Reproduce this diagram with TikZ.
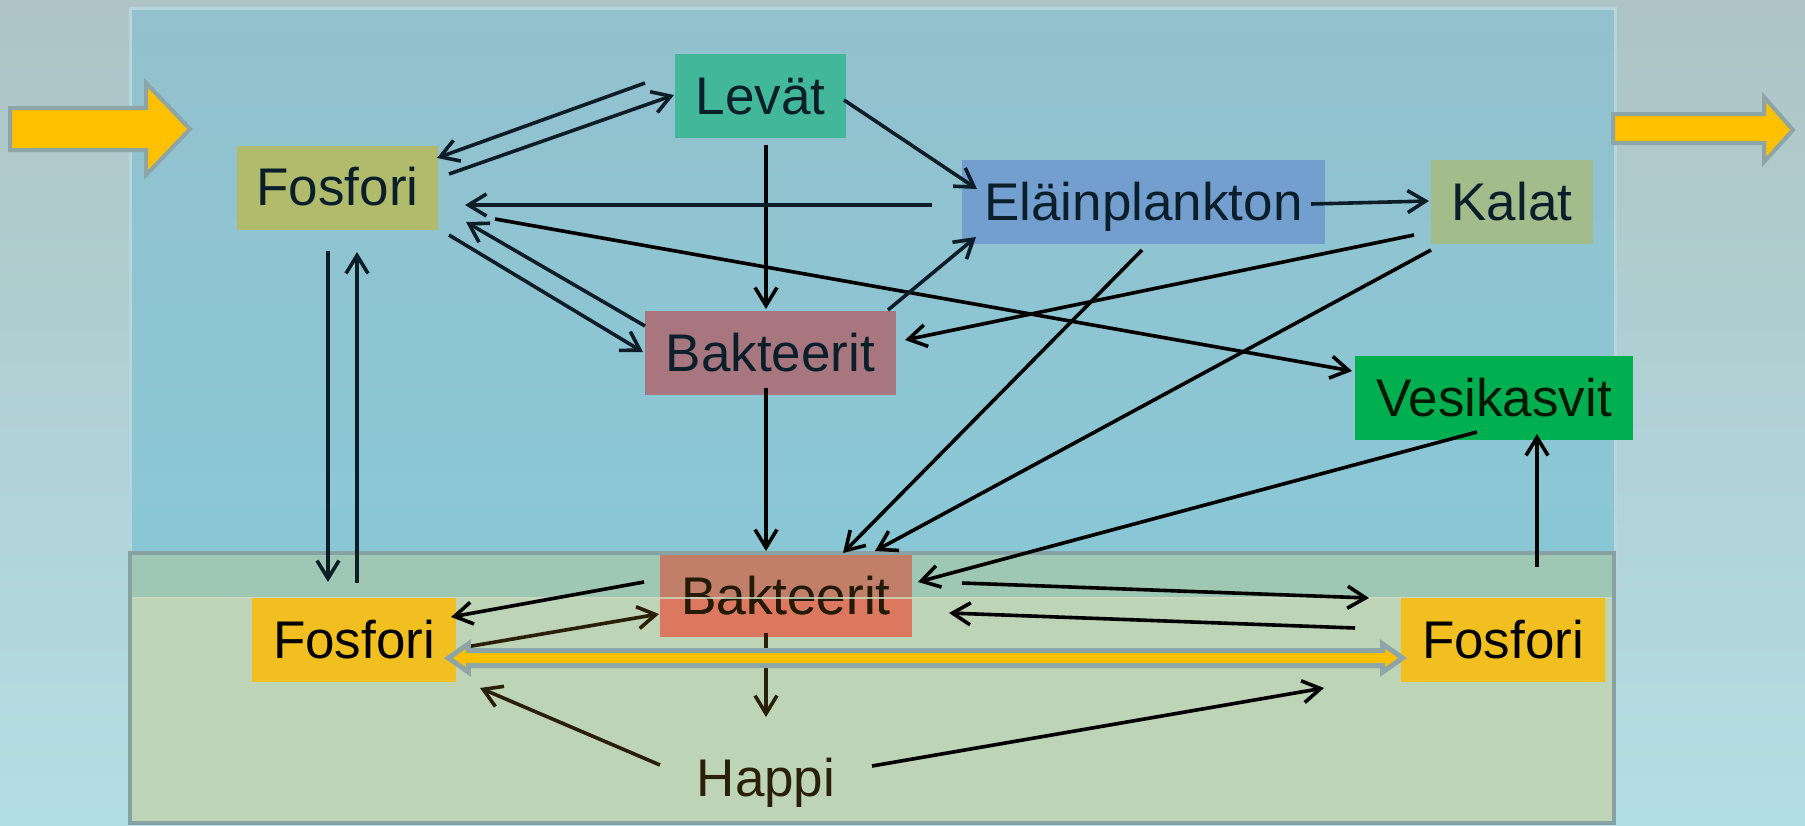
\documentclass[tikz,border=0pt]{standalone}
\usepackage{fontspec}
\setmainfont{Liberation Sans}
\usetikzlibrary{arrows.meta}
\definecolor{bgtop}{HTML}{AEC4C6}
\definecolor{bgbot}{HTML}{B3DEE4}
\definecolor{wtop}{HTML}{93C1CD}
\definecolor{wbot}{HTML}{89C8D6}
\definecolor{wedge}{HTML}{B6D6DC}
\definecolor{sedfill}{HTML}{BDD4B7}
\definecolor{sededge}{HTML}{88A2A4}
\definecolor{band}{HTML}{9EC8B4}
\definecolor{bandline}{HTML}{CCDBC0}
\definecolor{cLev}{HTML}{42B799}
\definecolor{cFosT}{HTML}{B0BB6C}
\definecolor{cEla}{HTML}{739FCF}
\definecolor{cKal}{HTML}{A3BC8B}
\definecolor{cBakT}{HTML}{A8767F}
\definecolor{cVes}{HTML}{00AF50}
\definecolor{cBakB}{HTML}{DD7860}
\definecolor{cBakBup}{HTML}{BF806C}
\definecolor{cFosY}{HTML}{F1C020}
\definecolor{yarrow}{HTML}{FFC000}
\definecolor{yedge}{HTML}{8EA5A7}
\definecolor{tdark}{HTML}{0B1F2B}
\definecolor{tbrown}{HTML}{2A2008}
\definecolor{cline}{HTML}{0D1E28}
\begin{document}
\begin{tikzpicture}[x=0.5pt,y=-0.5pt,
  box/.style={inner sep=0pt,minimum height=42pt,text height=24pt,text depth=5.6pt,
    font=\fontsize{26.5}{30}\selectfont,text=tdark},
  arr/.style={line width=1.8pt,draw=cline,-{Straight Barb[length=9pt,width=11pt]}},
  arrk/.style={arr,draw=black},
  arrb/.style={arr,draw=tbrown},
  bigarrow/.style={fill=yarrow,draw=yedge,line width=2pt,line join=miter}]
\useasboundingbox (0,0) rectangle (1805,825);
\shade[top color=bgtop,bottom color=bgbot] (0,0) rectangle (1805,825);
% water
\shade[top color=wtop,bottom color=wbot] (130,8) rectangle (1615,597);
\draw[wedge,line width=1.5pt] (130,597) -- (130,8) -- (1615,8) -- (1615,597);
% sediment
\fill[sedfill] (130,553) rectangle (1614,823);
\fill[band] (130,553) rectangle (1614,597);
\draw[sededge,line width=2pt] (130,553) rectangle (1614,823);
% big arrows
\draw[bigarrow] (10,108) -- (146,108) -- (146,83) -- (190,129) -- (146,175) -- (146,150) -- (10,150) -- cycle;
\draw[bigarrow] (1613,114) -- (1764,114) -- (1764,97) -- (1793,130) -- (1764,162) -- (1764,143) -- (1613,143) -- cycle;
% nodes
\node[box,fill=cLev,minimum width=85.5pt] (lev) at (760.5,96) {Levät};
\node[box,fill=cFosT,minimum width=100.5pt] (fT) at (337.5,187.5) {Fosfori};
\node[box,fill=cEla,minimum width=181.5pt] (ela) at (1143.5,202) {Eläinplankton};
\node[box,fill=cKal,minimum width=81pt] (kal) at (1512,202) {Kalat};
\node[box,fill=cBakT,minimum width=125.5pt] (bT) at (770.5,353) {Bakteerit};
\node[box,fill=cVes,minimum width=139pt,text=black!90!green] (ves) at (1494,398) {Vesikasvit};
\node[box,fill=cBakB,minimum width=126pt,minimum height=41pt,text=tbrown] (bB) at (786,596) {Bakteerit};
\fill[cBakBup,opacity=0.9] (bB.north west) rectangle ([shift={(0,1.5)}]bB.east);
\node[box,minimum width=126pt,minimum height=41pt,text=tbrown!85!black,fill=none] (bBt) at (bB.center) {Bakteerit};
\draw[bandline,line width=1pt,opacity=0.8] (132,598) -- (1612,598);
\node[box,fill=cFosY,minimum width=102pt,text=black] (fL) at (354,640) {Fosfori};
\node[box,fill=cFosY,minimum width=102pt,text=black] (fR) at (1503,640) {Fosfori};
\node[box,text=tbrown] (hap) at (766,778) {Happi};
% connectors upper
\draw[arr] ([shift={(-115.5,-13)}]lev.center) -- ([shift={(99.5,-29.5)}]fT.center);
\draw[arr] ([shift={(111.5,-13.5)}]fT.center) -- ([shift={(-86.5,-1)}]lev.center);
\draw[arr] ([shift={(83.5,4)}]lev.center) -- ([shift={(-166.5,-13)}]ela.center);
\draw[arrk] ([shift={(5.5,49)}]lev.center) -- ([shift={(-4.5,-44)}]bT.center);
\draw[arr] ([shift={(-211.5,3)}]ela.center) -- ([shift={(127.5,17.5)}]fT.center);
\draw[arr] ([shift={(-125.5,-27)}]bT.center) -- ([shift={(128.5,34.5)}]fT.center);
\draw[arr] ([shift={(111.5,47.5)}]fT.center) -- ([shift={(-127.5,-1)}]bT.center);
\draw[arrk] ([shift={(157.5,31.5)}]fT.center) -- ([shift={(-142,-27)}]ves.center);
\draw[arr] ([shift={(117.5,-43)}]bT.center) -- ([shift={(-167.5,35)}]ela.center);
\draw[arr] ([shift={(167.5,2)}]ela.center) -- ([shift={(-83,-1)}]kal.center);
\draw[arrk] ([shift={(-98,33)}]kal.center) -- ([shift={(134.5,-13)}]bT.center);
\draw[arrk] ([shift={(-1.5,48)}]ela.center) -- ([shift={(57,-43)}]bB.center);
\draw[arrk] ([shift={(-81,48)}]kal.center) -- ([shift={(89,-45)}]bB.center);
\draw[arrk] ([shift={(-4.5,35)}]bT.center) -- ([shift={(-20,-45)}]bB.center);
\draw[arrk] ([shift={(-17,34)}]ves.center) -- ([shift={(132,-14)}]bB.center);
\draw[arrk] ([shift={(34,-73)}]fR.center) -- ([shift={(43,36)}]ves.center);
\draw[arr] ([shift={(-9.5,63.5)}]fT.center) -- ([shift={(-26,-58)}]fL.center);
\draw[arr] ([shift={(3,-57)}]fL.center) -- ([shift={(19.5,64.5)}]fT.center);
% connectors lower
\draw[arrk] ([shift={(-142,-14)}]bB.center) -- ([shift={(97,-23)}]fL.center);
\draw[arrb] ([shift={(112,7)}]fL.center) -- ([shift={(-127,18)}]bB.center);
\draw[arrk] ([shift={(176,-13)}]bB.center) -- ([shift={(-134,-42)}]fR.center);
\draw[arrk] ([shift={(-148,-12)}]fR.center) -- ([shift={(163,17)}]bB.center);
\draw[arrb] ([shift={(-20,37)}]bB.center) -- ([shift={(0,-61)}]hap.center);
\draw[arrb] ([shift={(-106,-13)}]hap.center) -- ([shift={(126,48)}]fL.center);
\draw[arrk] ([shift={(106,-12)}]hap.center) -- ([shift={(-179,48)}]fR.center);
% double yellow arrow
\draw[bigarrow,line width=2.5pt]
  ([shift={(-8,18)}]fL.east) -- ([shift={(12,4)}]fL.east) -- ([shift={(12,10.5)}]fL.east)
  -- ([shift={(-18,10.5)}]fR.west) -- ([shift={(-18,4)}]fR.west) -- ([shift={(2,18)}]fR.west)
  -- ([shift={(-18,32)}]fR.west) -- ([shift={(-18,25.5)}]fR.west)
  -- ([shift={(12,25.5)}]fL.east) -- ([shift={(12,32)}]fL.east) -- cycle;
\end{tikzpicture}
\end{document}
